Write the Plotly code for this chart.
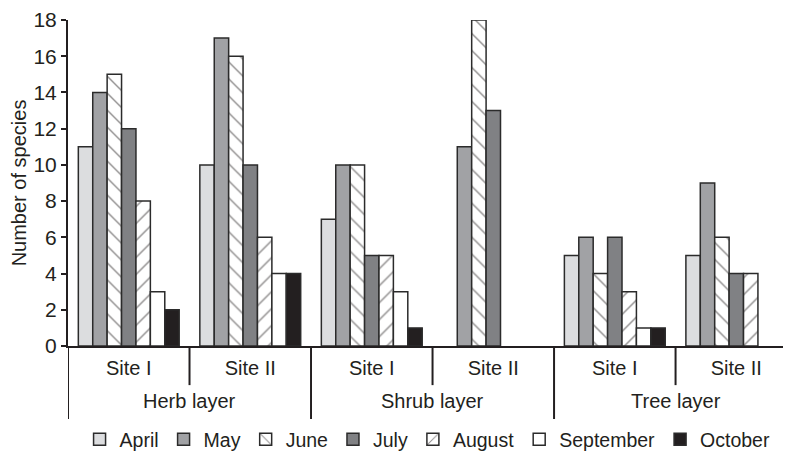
import plotly.graph_objects as go

layers = ["Herb layer", "Shrub layer", "Tree layer"]
sites = ["Site I", "Site II", "Site I", "Site II", "Site I", "Site II"]

months = ["April", "May", "June", "July", "August", "September", "October"]
april = [11, 10, 7, 0, 5, 5]
may = [14, 17, 10, 11, 6, 9]
june = [15, 16, 10, 18, 4, 6]
july = [12, 10, 5, 13, 6, 4]
august = [8, 6, 5, 0, 3, 4]
september = [3, 4, 3, 0, 1, 0]
october = [2, 4, 1, 0, 1, 0]
series = [april, may, june, july, august, september, october]

y_ticks = [0, 2, 4, 6, 8, 10, 12, 14, 16, 18]

INK = "#231f20"
styles = [
    dict(color="#dcdddf", pattern=None),
    dict(color="#a1a2a5", pattern=None),
    dict(color="white", pattern=dict(shape="\\", fgcolor=INK, bgcolor="white", size=12, solidity=0.12)),
    dict(color="#808184", pattern=None),
    dict(color="white", pattern=dict(shape="/", fgcolor=INK, bgcolor="white", size=12, solidity=0.12)),
    dict(color="white", pattern=None),
    dict(color=INK, pattern=None),
]

xpos = list(range(len(sites)))

fig = go.Figure()
for name, vals, st in zip(months, series, styles):
    marker = dict(color=st["color"],
                  line=dict(color="#2b2b2b", width=[1.5 if v else 0 for v in vals]))
    if st["pattern"]:
        marker["pattern"] = st["pattern"]
    fig.add_trace(go.Bar(x=xpos, y=vals, name=name, marker=marker))

font = "Liberation Sans, Arial, sans-serif"
FS = 20

shapes = []
for i in range(len(sites)):
    b = i - 0.5
    long_div = (i % 2 == 0)
    shapes.append(dict(type="line", xref="x", yref="paper", x0=b, x1=b,
                       y0=0, y1=-0.224 if long_div else -0.12,
                       line=dict(color=INK, width=2)))

annotations = []
for j, lay in enumerate(layers):
    annotations.append(dict(text=lay, x=2 * j + 0.5, xref="x", y=-0.17, yref="paper",
                            yanchor="middle", showarrow=False, font=dict(size=FS, color=INK)))

# page body has an 8px margin, so the figure is sized to end at the window edge
fig.update_layout(
    width=783, height=451,
    margin=dict(l=60, r=0, t=12, b=112),
    plot_bgcolor="white", paper_bgcolor="white",
    barmode="group", bargap=0.17, bargroupgap=0,
    font=dict(family=font, size=FS, color=INK),
    showlegend=True,
    legend=dict(orientation="h", x=0.016, xanchor="left", y=-0.286, yanchor="middle",
                font=dict(size=19.5), itemwidth=30, traceorder="normal"),
    shapes=shapes, annotations=annotations,
)
fig.update_xaxes(
    range=[-0.5, 5.45], tickvals=xpos, ticktext=sites, showline=True, linecolor=INK, linewidth=2,
    ticks="", showgrid=False, zeroline=False, tickfont=dict(size=FS), automargin=False,
    ticklabelstandoff=3,
)
fig.update_yaxes(
    range=[0, 18], tickvals=y_ticks, showline=True, linecolor=INK, linewidth=2,
    ticks="outside", ticklen=5, tickcolor=INK, tickwidth=2, showgrid=False, zeroline=False,
    title=dict(text="Number of species", font=dict(size=FS), standoff=2),
    tickfont=dict(size=21), ticklabelstandoff=0, automargin=False,
)
fig.write_html("out.html")
